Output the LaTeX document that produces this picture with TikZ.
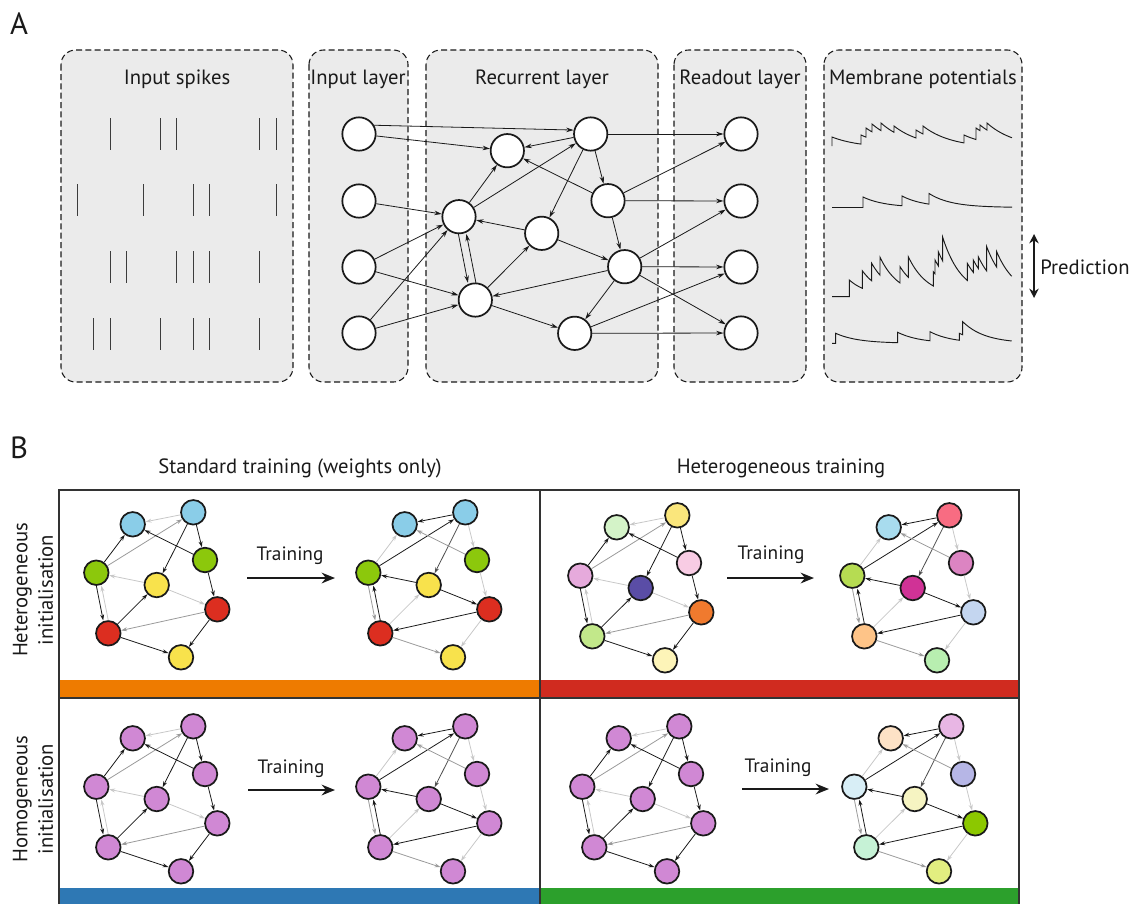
\documentclass[tikz,border=0pt]{standalone}
\usepackage{fontspec}
\setmainfont{PT Sans}
\usetikzlibrary{arrows.meta}
\definecolor{boxfill}{HTML}{EBEBEB}
\definecolor{ink}{HTML}{1A1A1A}
\definecolor{eK}{HTML}{1A1A1A}
\definecolor{eD}{HTML}{505050}
\definecolor{eM}{HTML}{9A9A9A}
\definecolor{eL}{HTML}{C8C8C8}
\definecolor{cBlu}{HTML}{8ACDE8}
\definecolor{cGrn}{HTML}{8CC80C}
\definecolor{cYel}{HTML}{F8E24C}
\definecolor{cRed}{HTML}{DC2E20}
\definecolor{cPur}{HTML}{D088D4}
\definecolor{tA}{HTML}{D4F3C8}
\definecolor{tB}{HTML}{FAE67C}
\definecolor{tC}{HTML}{E6AADC}
\definecolor{tD}{HTML}{F8CCE4}
\definecolor{tE}{HTML}{5A4DA6}
\definecolor{tF}{HTML}{F07A2E}
\definecolor{tG}{HTML}{C2E88A}
\definecolor{tH}{HTML}{FDF4B8}
\definecolor{uA}{HTML}{A8DCEE}
\definecolor{uB}{HTML}{F86C82}
\definecolor{uC}{HTML}{B6DC52}
\definecolor{uD}{HTML}{DC84C2}
\definecolor{uE}{HTML}{D03296}
\definecolor{uF}{HTML}{C4D6F0}
\definecolor{uG}{HTML}{FEC488}
\definecolor{uH}{HTML}{B8EEB0}
\definecolor{vA}{HTML}{FDE2C6}
\definecolor{vB}{HTML}{E8B6E4}
\definecolor{vC}{HTML}{D8EEF6}
\definecolor{vD}{HTML}{B6B6E6}
\definecolor{vE}{HTML}{F6F4C2}
\definecolor{vF}{HTML}{8CC800}
\definecolor{vG}{HTML}{C6F2D6}
\definecolor{vH}{HTML}{E2EE80}
\definecolor{barO}{HTML}{EE7B00}
\definecolor{barR}{HTML}{D02B1F}
\definecolor{barB}{HTML}{2E78B4}
\definecolor{barG}{HTML}{2CA02C}

% decaying membrane segment: start x, end x, peak y ; uses \TB (base) and \TAU
\newcommand\mseg[3]{-- plot[domain=#1:#2,samples=16,smooth] (\x,{\TB-(\TB-#3)*exp(-(\x-#1)/\TAU)})}

\newcommand\bnet[4]{%
  \foreach \col [count=\i] in {#4} {%
    \pgfmathsetmacro\bpx{{132.7,193.3,96.3,205,156.7,217.3,108.3,181}[\i-1]+#2}%
    \pgfmathsetmacro\bpy{{524.3,512.3,572.7,560,585,609.3,633.3,657.3}[\i-1]+#3}%
    \node[bnode, fill=\col] (#1\i) at (\bpx,\bpy) {};
  }}
\newcommand\bedges[2]{\foreach \a/\b/\c/\s in #2 {\draw[barr, draw=\c, transform canvas={xshift=\s pt}] (#1\a) -- (#1\b);}}
\def\preE{2/1/eL/0, 3/2/eM/0, 3/1/eK/0, 2/4/eK/0, 2/5/eK/0, 4/1/eK/0, 5/3/eL/0, 5/6/eL/0, 4/6/eK/0, 3/7/eK/-1.9, 7/3/eL/1.9, 7/5/eK/0, 6/7/eM/0, 7/8/eK/0, 6/8/eK/0}
\def\postE{2/1/eK/0, 3/2/eK/0, 3/1/eL/0, 2/4/eL/0, 2/5/eD/0, 4/1/eM/0, 5/3/eK/0, 5/6/eK/0, 4/6/eL/0, 3/7/eM/-1.9, 7/3/eK/1.9, 7/5/eL/0, 6/7/eK/0, 7/8/eM/0, 6/8/eL/0}

\begin{document}
\begin{tikzpicture}[x=0.75pt,y=-0.75pt,
  font=\fontsize{15.5}{18}\selectfont,
  abox/.style={draw=ink, dash pattern=on 4.5pt off 2.5pt, line width=0.8pt, fill=boxfill, rounded corners=11pt},
  anode/.style={circle, draw=ink, line width=1.3pt, fill=white, minimum size=25pt, inner sep=0pt},
  bnode/.style={circle, draw=ink, line width=1.3pt, minimum size=18.4pt, inner sep=0pt},
  aarr/.style={draw=ink, line width=0.6pt, -{Stealth[length=5.5pt,width=3.4pt]}},
  barr/.style={line width=0.6pt, -{Stealth[length=4.5pt,width=3pt]}},
  spk/.style={draw=ink!85, line width=0.7pt},
  trace/.style={draw=ink, line width=0.7pt},
  trarr/.style={draw=ink, line width=1.5pt, -{Stealth[length=10pt,width=8pt]}},
  frame/.style={draw=black!80, line width=1.5pt},
  lbl/.style={inner sep=0pt, text=ink},
]
\useasboundingbox (0,0) rectangle (1134,904);

% ---------------- Panel A ----------------
\node[lbl, font=\fontsize{23}{23}\selectfont] (labA) at (19,24) {A};

\draw[abox] (61,50) rectangle (293,382);
\draw[abox] (309,50) rectangle (408,382);
\draw[abox] (426,50) rectangle (658,382);
\draw[abox] (674,50) rectangle (806,382);
\draw[abox] (824,50) rectangle (1022,382);

\node[lbl] (t1) at (177,79) {Input spikes};
\node[lbl] (t2) at (358,79) {Input layer};
\node[lbl] (t3) at (542,79) {Recurrent layer};
\node[lbl] (t4) at (740,79) {Readout layer};
\node[lbl] (t5) at (923,79) {Membrane potentials};

% spikes
\foreach \k in {2,5,6,11,12} \draw[spk] ({77+\k*16.6},118) -- ++(0,32);
\foreach \k in {0,4,7,8,12} \draw[spk] ({77+\k*16.6},184) -- ++(0,32);
\foreach \k in {2,3,6,7,8,11} \draw[spk] ({77+\k*16.6},251) -- ++(0,32);
\foreach \k in {1,2,5,7,8,11} \draw[spk] ({77+\k*16.6},318) -- ++(0,32);

% nodes
\node[anode] (I1) at (359,134) {};
\node[anode] (I2) at (359,201) {};
\node[anode] (I3) at (359,267) {};
\node[anode] (I4) at (359,333) {};
\node[anode] (O1) at (741,134) {};
\node[anode] (O2) at (741,201) {};
\node[anode] (O3) at (741,267) {};
\node[anode] (O4) at (741,333) {};
\node[anode] (R1) at (507.3,150.7) {};
\node[anode] (R2) at (590.7,134) {};
\node[anode] (R3) at (459,216.7) {};
\node[anode] (R4) at (608,200.7) {};
\node[anode] (R5) at (541.7,233.3) {};
\node[anode] (R6) at (624.7,266.7) {};
\node[anode] (R7) at (475.3,300) {};
\node[anode] (R8) at (574.7,333.3) {};

\draw[aarr] (I1.30) -- (R2.167);
\foreach \a/\b in {I1/R1, I2/R3, I3/R3, I3/R7, I4/R3, I4/R7, R2/R1, R3/R1, R3/R2, R4/R1, R2/R4, R2/R5, R2/O1, R4/O1, R4/O2, R4/R6, R5/R3, R5/R6, R7/R5, R6/R7, R7/R8, R6/R8, R6/O2, R6/O3, R6/O4, R8/O3, R8/O4}
  \draw[aarr] (\a) -- (\b);
\draw[aarr, transform canvas={xshift=-3pt}] (R3) -- (R7);
\draw[aarr, transform canvas={xshift=3pt}] (R7) -- (R3);

% membrane traces
\def\TB{148}\def\TAU{28}
\draw[trace] (832,146) -- (832,137)
  \mseg{832}{861}{137} -- (861,135)
  \mseg{861}{866}{135} -- (866,128)
  \mseg{866}{872}{128} -- (872,124)
  \mseg{872}{881}{124} -- (881,123)
  \mseg{881}{894}{123} -- (894,126)
  \mseg{894}{916}{126} -- (916,130)
  \mseg{916}{923}{130} -- (923,126)
  \mseg{923}{964}{126} -- (964,135)
  \mseg{964}{976}{135} -- (976,128)
  \mseg{976}{980}{128} -- (980,125)
  \mseg{980}{987}{125} -- (987,123)
  \mseg{987}{1012}{123};
\def\TB{207.5}\def\TAU{22}
\draw[trace] (832,207.5) -- (863,207.5) -- (863,197)
  \mseg{863}{902}{197} -- (902,196)
  \mseg{902}{929}{196} -- (929,193.5)
  \mseg{929}{1012}{193.5};
\def\TB{296.7}\def\TAU{19}
\draw[trace] (832,296.7) -- (849.3,296.7) -- (849.3,280)
  \mseg{849.3}{862.3}{280} -- (862.3,270.7)
  \mseg{862.3}{871.7}{270.7} -- (871.7,263.3)
  \mseg{871.7}{880}{263.3} -- (880,257.3)
  \mseg{880}{900}{257.3} -- (900,266.7)
  \mseg{900}{908.3}{266.7} -- (908.3,256.7)
  \mseg{908.3}{933.3}{256.7} -- (933.3,271.7)
  \mseg{933.3}{935}{271.7} -- (935,260)
  \mseg{935}{938.3}{260} -- (938.3,251.7)
  \mseg{938.3}{942.7}{251.7} -- (942.7,237.3)
  \mseg{942.7}{967.3}{237.3} -- (967.3,263.3)
  \mseg{967.3}{973.3}{263.3} -- (973.3,260)
  \mseg{973.3}{978.3}{260} -- (978.3,256.7)
  \mseg{978.3}{986.7}{256.7} -- (986.7,246.7)
  \mseg{986.7}{996.7}{246.7} -- (996.7,251.7)
  \mseg{996.7}{1011.7}{251.7};
\def\TB{343.3}\def\TAU{22}
\draw[trace] (832,343.3) -- (835.7,343.3) -- (835.7,333.3)
  \mseg{835.7}{897.7}{333.3} -- (897.7,332.3)
  \mseg{897.7}{930}{332.3} -- (930,331.7)
  \mseg{930}{959.3}{331.7} -- (959.3,333.3)
  \mseg{959.3}{962.7}{333.3} -- (962.7,321.7)
  \mseg{962.7}{1011.7}{321.7};

% prediction arrow
\coordinate (pTop) at (1034,234);
\coordinate (pBot) at (1034,298);
\draw[draw=ink, line width=1.5pt, {Stealth[length=7pt,width=7pt]}-{Stealth[length=7pt,width=7pt]}] (pTop) -- (pBot);
\node[lbl, anchor=west] (pred) at (1040,267) {Prediction};

% ---------------- Panel B ----------------
\node[lbl, font=\fontsize{23}{23}\selectfont] (labB) at (19,448) {B};
\node[lbl] (h1) at (300,468) {Standard training (weights only)};
\node[lbl] (h2) at (781,468) {Heterogeneous training};
\node[lbl, rotate=90, align=center, font=\fontsize{15.5}{19}\selectfont] (r1) at (33,590) {Heterogeneous\\initialisation};
\node[lbl, rotate=90, align=center, font=\fontsize{15.5}{19}\selectfont] (r2) at (33,799) {Homogeneous\\initialisation};

\fill[barO] (59,680) rectangle (540,697);
\fill[barR] (540,680) rectangle (1019,697);
\fill[barB] (59,888) rectangle (540,904);
\fill[barG] (540,888) rectangle (1019,904);
\draw[frame] (59,904) -- (59,489.5) -- (1019,489.5) -- (1019,904);
\draw[frame] (59,698) -- (1019,698);
\draw[frame] (540,489.5) -- (540,904);

% training arrows
\node[lbl, font=\fontsize{14.5}{17}\selectfont] (tr1) at (290,556) {Training};
\node[lbl, font=\fontsize{14.5}{17}\selectfont] (tr2) at (771,555) {Training};
\node[lbl, font=\fontsize{14.5}{17}\selectfont] (tr3) at (291,769) {Training};
\node[lbl, font=\fontsize{14.5}{17}\selectfont] (tr4) at (778,768) {Training};
\coordinate (a1s) at (247,578); \coordinate (a1e) at (335,578);
\coordinate (a2s) at (727,578); \coordinate (a2e) at (814,578);
\coordinate (a3s) at (248,790); \coordinate (a3e) at (335,790);
\coordinate (a4s) at (742,789); \coordinate (a4e) at (829,789);
\draw[trarr] (a1s) -- (a1e);
\draw[trarr] (a2s) -- (a2e);
\draw[trarr] (a3s) -- (a3e);
\draw[trarr] (a4s) -- (a4e);

% networks
\bnet{ta}{0}{0}{cBlu,cBlu,cGrn,cGrn,cYel,cRed,cRed,cYel}
\bedges{ta}{\preE}
\bnet{tb}{272}{0}{cBlu,cBlu,cGrn,cGrn,cYel,cRed,cRed,cYel}
\bedges{tb}{\postE}
\bnet{tc}{484}{3}{tA,tB,tC,tD,tE,tF,tG,tH}
\bedges{tc}{\preE}
\bnet{td}{756}{3}{uA,uB,uC,uD,uE,uF,uG,uH}
\bedges{td}{\postE}
\bnet{ba}{0}{214}{cPur,cPur,cPur,cPur,cPur,cPur,cPur,cPur}
\bedges{ba}{\preE}
\bnet{bb}{272}{214}{cPur,cPur,cPur,cPur,cPur,cPur,cPur,cPur}
\bedges{bb}{\postE}
\bnet{bc}{486}{214}{cPur,cPur,cPur,cPur,cPur,cPur,cPur,cPur}
\bedges{bc}{\preE}
\bnet{bd}{758}{214}{vA,vB,vC,vD,vE,vF,vG,vH}
\bedges{bd}{\postE}
\end{tikzpicture}
\end{document}
